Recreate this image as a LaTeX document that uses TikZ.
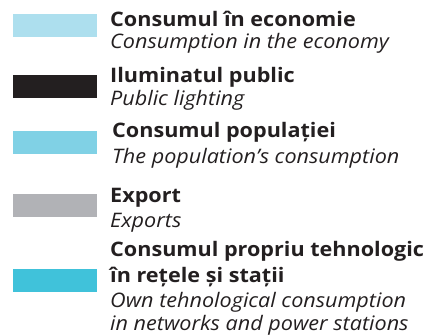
\documentclass[tikz,border=0pt]{standalone}
\usepackage{fontspec}
\setmainfont{Open Sans}[FakeStretch=1.08]
\definecolor{cEcon}{RGB}{173,223,238}
\definecolor{cLight}{RGB}{35,31,32}
\definecolor{cPop}{RGB}{128,209,229}
\definecolor{cExp}{RGB}{177,178,182}
\definecolor{cTech}{RGB}{64,194,218}
\begin{document}
\begin{tikzpicture}[x=1pt,y=-1pt,
  swatch/.style={draw=none,inner sep=0pt,minimum width=84pt,minimum height=23pt,anchor=north west},
  bold/.style={anchor=base west,inner sep=0pt,text=cLight,font=\fontsize{20}{22}\selectfont\bfseries},
  ital/.style={anchor=base west,inner sep=0pt,text=cLight,font=\fontsize{20}{22}\selectfont\itshape}]
\useasboundingbox (0,0) rectangle (435,335);
\node[swatch,fill=cEcon] (s1) at (13,14) {};
\node[swatch,fill=cLight] (s2) at (13,75) {};
\node[swatch,fill=cPop] (s3) at (13,131) {};
\node[swatch,fill=cExp] (s4) at (13,194) {};
\node[swatch,fill=cTech] (s5) at (13,269) {};
\node[bold] (t1a) at (110,26) {Consumul în economie};
\node[ital] (t1b) at (110,48) {Consumption in the economy};
\node[bold] (t2a) at (110,82) {Iluminatul public};
\node[ital] (t2b) at (110,105) {Public lighting};
\node[bold] (t3a) at (112,137) {Consumul populației};
\node[ital] (t3b) at (112,163) {The population’s consumption};
\node[bold] (t4a) at (110,202) {Export};
\node[ital] (t4b) at (110,227) {Exports};
\node[bold] (t5a) at (110,256) {Consumul propriu tehnologic};
\node[bold] (t5b) at (110,282) {în rețele și stații};
\node[ital] (t5c) at (110,307) {Own tehnological consumption};
\node[ital] (t5d) at (110,330) {in networks and power stations};
\end{tikzpicture}
\end{document}
